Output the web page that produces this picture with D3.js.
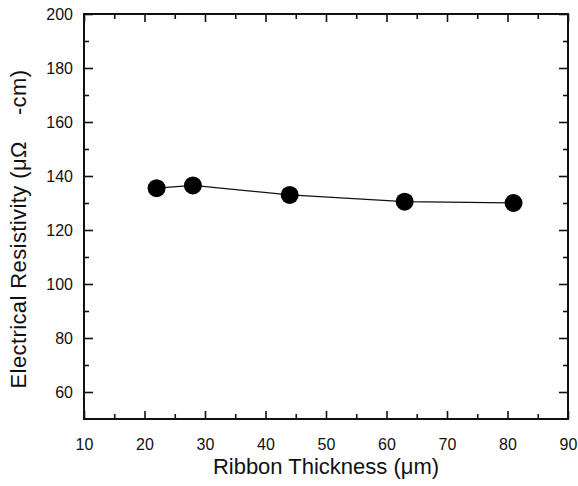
<!DOCTYPE html>
<html>
<head>
<meta charset="utf-8">
<script src="https://cdn.jsdelivr.net/npm/d3@7"></script>
<style>
  body { margin: 0; background: #fff; }
</style>
</head>
<body>
<div id="chart"></div>
<script>
// ribbon thickness (um) vs resistivity (uOhm-cm)
var thickness = [22, 28, 44, 63, 81];
var resistivity = [135.5, 136.5, 133, 130.5, 130];
var xTicks = [10, 20, 30, 40, 50, 60, 70, 80, 90];
var yTicks = [60, 80, 100, 120, 140, 160, 180, 200];

var width = 578, height = 486;
var margin = { top: 14, right: 10, bottom: 67, left: 84 };
var innerW = width - margin.left - margin.right;
var innerH = height - margin.top - margin.bottom;
var font = '"Liberation Sans", Arial, sans-serif';

var svg = d3.select('#chart').append('svg')
  .attr('width', width)
  .attr('height', height)
  .style('font-family', font);

var g = svg.append('g')
  .attr('transform', `translate(${margin.left}, ${margin.top})`);

var x = d3.scaleLinear().domain([10, 90]).range([0, innerW]);
var y = d3.scaleLinear().domain([50, 200]).range([innerH, 0]);

var xMinor = d3.range(15, 90, 10);
var yMinor = d3.range(70, 200, 20);

// inward ticks on all four sides
function styleAxis(sel) {
  sel.attr('font-family', font).attr('font-size', 16);
  sel.select('.domain').remove();
  sel.selectAll('.tick line').attr('stroke', '#111').attr('stroke-width', 1.6);
  sel.selectAll('.tick text').attr('fill', '#111');
}

g.append('g')
  .attr('transform', `translate(0, ${innerH})`)
  .call(d3.axisBottom(x).tickValues(xTicks).tickSizeInner(-8).tickPadding(20))
  .call(styleAxis);
g.append('g')
  .attr('transform', `translate(0, ${innerH})`)
  .call(d3.axisBottom(x).tickValues(xMinor).tickSizeInner(-5).tickFormat(''))
  .call(styleAxis);
g.append('g')
  .call(d3.axisTop(x).tickValues(xTicks).tickSizeInner(-8).tickFormat(''))
  .call(styleAxis);
g.append('g')
  .call(d3.axisTop(x).tickValues(xMinor).tickSizeInner(-5).tickFormat(''))
  .call(styleAxis);

g.append('g')
  .call(d3.axisLeft(y).tickValues(yTicks).tickSizeInner(-9).tickPadding(11))
  .call(styleAxis);
g.append('g')
  .call(d3.axisLeft(y).tickValues(yMinor).tickSizeInner(-5).tickFormat(''))
  .call(styleAxis);
g.append('g')
  .attr('transform', `translate(${innerW}, 0)`)
  .call(d3.axisRight(y).tickValues(yTicks).tickSizeInner(-9).tickFormat(''))
  .call(styleAxis);
g.append('g')
  .attr('transform', `translate(${innerW}, 0)`)
  .call(d3.axisRight(y).tickValues(yMinor).tickSizeInner(-5).tickFormat(''))
  .call(styleAxis);

// frame
g.append('rect')
  .attr('width', innerW)
  .attr('height', innerH)
  .attr('fill', 'none')
  .attr('stroke', '#111')
  .attr('stroke-width', 2);

var points = thickness.map(function(d, i) { return [d, resistivity[i]]; });

g.append('path')
  .datum(points)
  .attr('fill', 'none')
  .attr('stroke', '#111')
  .attr('stroke-width', 1.2)
  .attr('d', d3.line().x(function(d) { return x(d[0]); }).y(function(d) { return y(d[1]); }));

g.selectAll('.dot')
  .data(points)
  .enter().append('circle')
  .attr('class', 'dot')
  .attr('cx', function(d) { return x(d[0]); })
  .attr('cy', function(d) { return y(d[1]); })
  .attr('r', 9)
  .attr('fill', '#000');

// axis titles
svg.append('text')
  .attr('x', margin.left + innerW / 2)
  .attr('y', 474)
  .attr('text-anchor', 'middle')
  .style('font-size', '22px')
  .attr('fill', '#111')
  .text('Ribbon Thickness (\u03bcm)');

svg.append('text')
  .attr('transform', 'translate(26, 229) rotate(-90)')
  .attr('text-anchor', 'middle')
  .style('font-size', '22px')
  .style('letter-spacing', '0.4px')
  .attr('fill', '#111')
  .text('Electrical Resistivity (\u03bc\u03a9\u00a0\u00a0\u00a0\u00a0-cm)');
</script>
</body>
</html>
